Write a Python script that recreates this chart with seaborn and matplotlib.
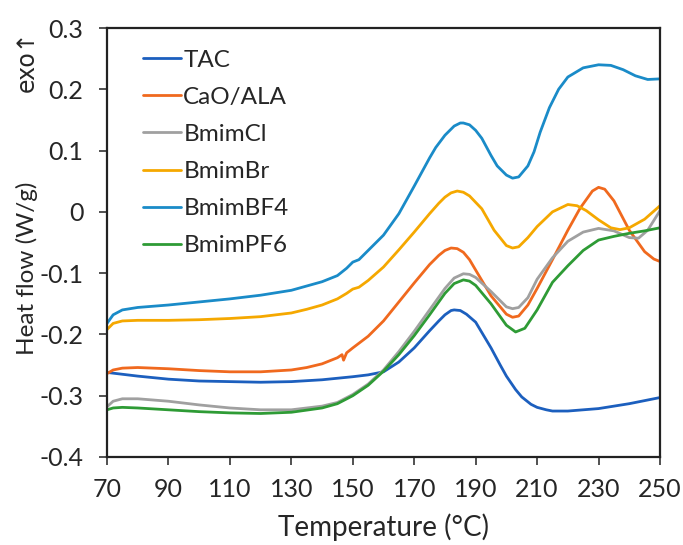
import matplotlib
matplotlib.use("Agg")
import matplotlib.pyplot as plt
import seaborn as sns
import pandas as pd

# ---- data ----
series_names = ["TAC", "CaO/ALA", "BmimCl", "BmimBr", "BmimBF4", "BmimPF6"]

tac_T = [70, 75, 80, 90, 100, 110, 120, 130, 140, 150, 155, 160, 165, 170, 175, 178, 180, 182, 183, 185, 187, 190, 195, 198, 200, 203, 205, 208, 210, 213, 215, 220, 230, 240, 250]
tac_v = [-0.262, -0.265, -0.268, -0.273, -0.276, -0.277, -0.278, -0.277, -0.274, -0.269, -0.266, -0.261, -0.245, -0.222, -0.194, -0.178, -0.168, -0.161, -0.160, -0.161, -0.167, -0.180, -0.222, -0.250, -0.268, -0.290, -0.302, -0.314, -0.319, -0.323, -0.325, -0.325, -0.321, -0.313, -0.303]

cao_T = [70, 72, 75, 80, 90, 100, 110, 120, 130, 135, 140, 145, 146.5, 147, 148, 150, 155, 160, 165, 170, 175, 178, 180, 182, 184, 186, 188, 190, 195, 200, 202, 204, 207, 210, 215, 220, 224, 228, 230, 232, 235, 240, 245, 248, 250]
cao_v = [-0.264, -0.258, -0.255, -0.254, -0.256, -0.259, -0.261, -0.261, -0.258, -0.254, -0.248, -0.238, -0.233, -0.242, -0.230, -0.222, -0.203, -0.178, -0.147, -0.116, -0.086, -0.071, -0.063, -0.059, -0.060, -0.066, -0.078, -0.095, -0.137, -0.167, -0.172, -0.170, -0.152, -0.125, -0.078, -0.030, 0.006, 0.034, 0.040, 0.037, 0.018, -0.030, -0.065, -0.077, -0.081]

cl_T = [70, 72, 75, 80, 90, 100, 110, 120, 130, 140, 145, 150, 155, 160, 165, 170, 175, 180, 183, 186, 188, 190, 195, 200, 202, 204, 207, 210, 215, 220, 225, 230, 235, 240, 243, 246, 250]
cl_v = [-0.318, -0.309, -0.305, -0.305, -0.309, -0.315, -0.320, -0.323, -0.323, -0.317, -0.311, -0.298, -0.281, -0.258, -0.228, -0.195, -0.160, -0.125, -0.108, -0.101, -0.102, -0.107, -0.130, -0.155, -0.158, -0.156, -0.140, -0.110, -0.075, -0.048, -0.033, -0.027, -0.031, -0.042, -0.043, -0.030, 0.002]

br_T = [70, 72, 75, 80, 90, 100, 110, 120, 130, 135, 140, 145, 148, 150, 152, 155, 160, 165, 170, 175, 178, 180, 182, 184, 186, 188, 192, 196, 200, 202, 204, 207, 210, 215, 220, 223, 226, 230, 234, 237, 240, 245, 250]
br_v = [-0.192, -0.182, -0.178, -0.177, -0.177, -0.176, -0.174, -0.171, -0.165, -0.159, -0.152, -0.142, -0.133, -0.126, -0.123, -0.112, -0.090, -0.062, -0.033, -0.003, 0.014, 0.024, 0.031, 0.034, 0.032, 0.026, 0.005, -0.030, -0.055, -0.059, -0.057, -0.042, -0.024, 0.000, 0.012, 0.010, 0.002, -0.013, -0.026, -0.029, -0.026, -0.012, 0.010]

bf4_T = [70, 72, 75, 80, 90, 100, 110, 120, 130, 135, 140, 145, 148, 150, 152, 155, 160, 165, 170, 175, 177, 180, 183, 185, 186, 188, 190, 192, 195, 197, 200, 202, 204, 207, 209, 211, 214, 217, 220, 225, 230, 234, 238, 242, 246, 250]
bf4_v = [-0.182, -0.168, -0.160, -0.156, -0.152, -0.147, -0.142, -0.136, -0.128, -0.121, -0.114, -0.104, -0.092, -0.082, -0.078, -0.063, -0.038, -0.003, 0.042, 0.088, 0.105, 0.125, 0.140, 0.145, 0.145, 0.142, 0.133, 0.120, 0.092, 0.075, 0.060, 0.055, 0.057, 0.075, 0.098, 0.130, 0.170, 0.200, 0.220, 0.235, 0.240, 0.239, 0.232, 0.222, 0.216, 0.217]

pf6_T = [70, 72, 75, 80, 90, 100, 110, 120, 130, 140, 145, 150, 155, 160, 165, 170, 175, 180, 183, 186, 188, 190, 195, 200, 203, 206, 210, 215, 220, 225, 230, 235, 240, 245, 250]
pf6_v = [-0.323, -0.320, -0.319, -0.320, -0.323, -0.326, -0.328, -0.329, -0.327, -0.320, -0.313, -0.300, -0.283, -0.260, -0.233, -0.202, -0.168, -0.133, -0.117, -0.111, -0.113, -0.120, -0.150, -0.185, -0.196, -0.190, -0.160, -0.115, -0.088, -0.063, -0.046, -0.040, -0.035, -0.031, -0.026]

x_ticks = [70, 90, 110, 130, 150, 170, 190, 210, 230, 250]
y_ticks = [-0.4, -0.3, -0.2, -0.1, 0.0, 0.1, 0.2, 0.3]
y_tick_labels = ["-0.4", "-0.3", "-0.2", "-0.1", "0", "0.1", "0.2", "0.3"]

colors = ["#1C5FBE", "#F0691E", "#A0A0A0", "#F5A800", "#1A8BC8", "#2E9B35"]

# ---- build long table ----
frames = []
for name, T, v in zip(series_names,
                      [tac_T, cao_T, cl_T, br_T, bf4_T, pf6_T],
                      [tac_v, cao_v, cl_v, br_v, bf4_v, pf6_v]):
    frames.append(pd.DataFrame({"Temperature": T, "Heat flow": v, "Sample": name}))
df = pd.concat(frames, ignore_index=True)

sns.set_style("ticks")
plt.rcParams["font.family"] = ["Lato", "DejaVu Sans"]

fig = plt.figure(figsize=(6.83, 5.45), dpi=100)
ax = fig.add_axes([107 / 683, 1 - 457 / 545, 553 / 683, 429 / 545])

sns.lineplot(data=df, x="Temperature", y="Heat flow", hue="Sample",
             hue_order=series_names, palette=colors, sort=False,
             estimator=None, linewidth=2.0, ax=ax)

ax.set_xlim(70, 250)
ax.set_ylim(-0.4, 0.3)
ax.set_xticks(x_ticks)
ax.set_xticklabels([str(t) for t in x_ticks])
ax.set_yticks(y_ticks)
ax.set_yticklabels(y_tick_labels)
ax.tick_params(axis="both", labelsize=18, length=6, width=1.2, color="#333333")
ax.tick_params(axis="x", pad=9)
ax.tick_params(axis="y", pad=11)
for s in ax.spines.values():
    s.set_visible(True)
    s.set_linewidth(1.6)
    s.set_color("#222222")
ax.set_xlabel("")
ax.set_ylabel("")

fig.text(383 / 683, 1 - 527 / 545, "Temperature (°C)", ha="center", va="center", fontsize=20)
fig.text(27 / 683, 1 - 268 / 545, "Heat flow (W/g)", ha="center", va="center",
         rotation=90, fontsize=17.5)
fig.text(27 / 683, 1 - 61 / 545, "exo\u2191", ha="center", va="center", rotation=90,
         fontsize=17, family="DejaVu Sans")

leg = ax.legend(loc="upper left", bbox_to_anchor=(0.026, 1.0), frameon=False,
                fontsize=17.5, handlelength=1.55, handletextpad=0.1, labelspacing=0.66)
for line in leg.get_lines():
    line.set_linewidth(2.0)

fig.savefig("out.png", dpi=100)
